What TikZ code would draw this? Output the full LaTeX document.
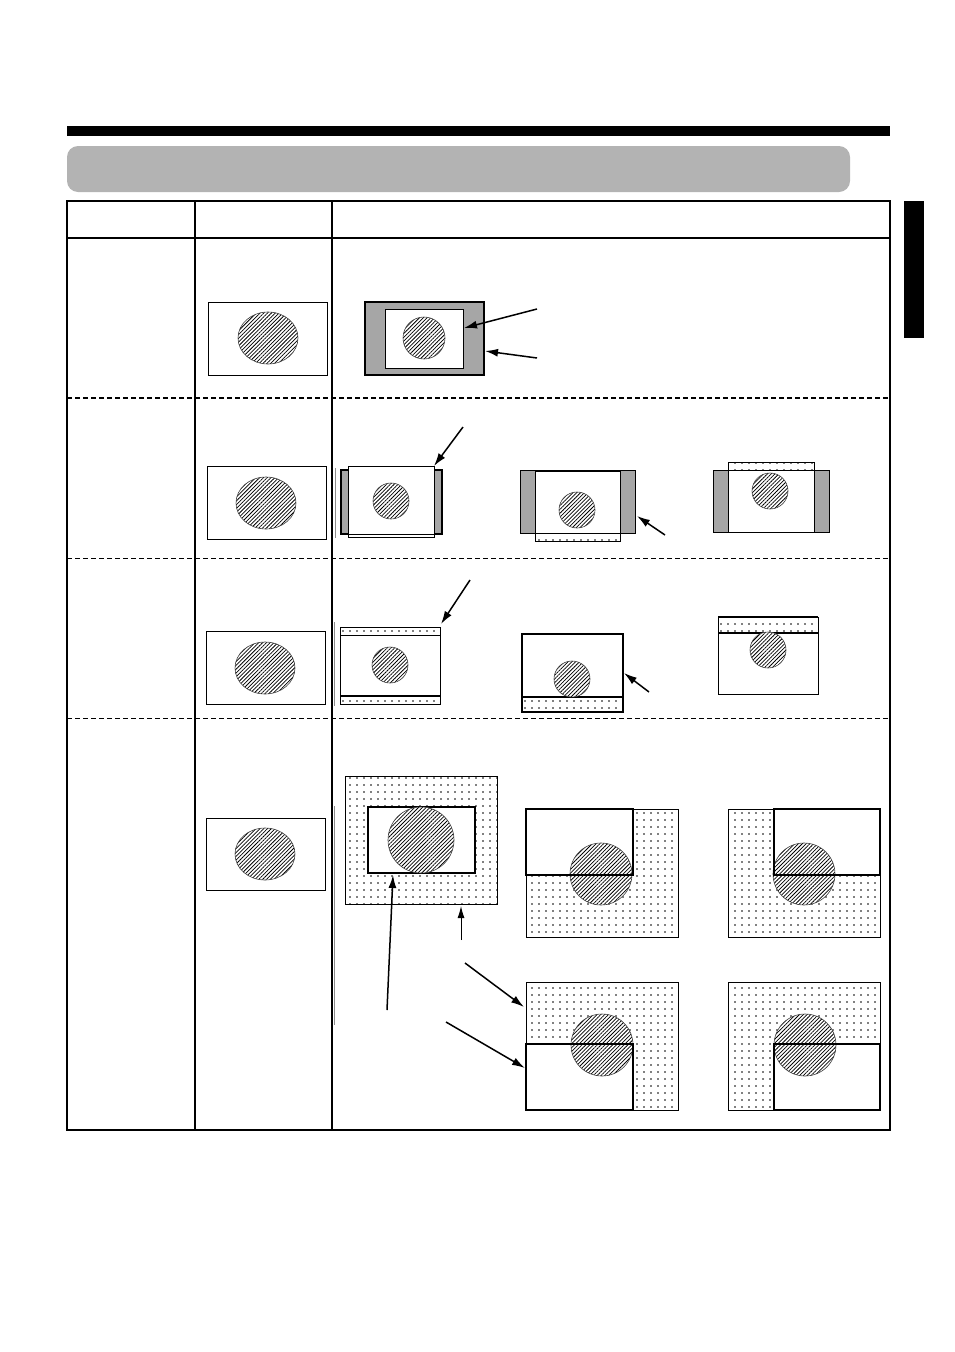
\documentclass[tikz,border=0pt]{standalone}
\usetikzlibrary{patterns.meta,arrows.meta}
\definecolor{banner}{RGB}{179,179,179}
\definecolor{barg}{RGB}{166,166,166}
\begin{document}
\begin{tikzpicture}[x=1pt,y=-1pt,
  hatchc/.style={draw=black!75, line width=0.6pt, preaction={fill=white},
     pattern={Lines[angle=45,distance=2.7pt,line width=0.75pt]}},
  dotsfill/.style={pattern={Dots[distance=7pt,radius=0.8pt]}},
  thinframe/.style={draw, line width=0.9pt},
  boldframe/.style={draw, line width=2pt},
  arr/.style={-{Latex[length=13pt,width=8pt]}, line width=1.5pt},
  arrthin/.style={-{Latex[length=12pt,width=7pt]}, line width=1pt},
  ghost/.style={draw=black!45, line width=0.6pt}]
\useasboundingbox (0,0) rectangle (954,1352);

% header
\fill (67,126) rectangle (890,136);
\fill[banner, rounded corners=11pt] (67,146) rectangle (850,192);
\fill (904,201) rectangle (924,338);

% table
\draw[line width=2pt] (67,201) rectangle (890,1130);
\draw[line width=2.5pt] (67,238) -- (890,238);
\draw[line width=1.5pt] (195,201) -- (195,1130);
\draw[line width=1.5pt] (332,201) -- (332,1130);
\draw[line width=1.5pt, dash pattern=on 5pt off 3pt] (67,398) -- (890,398);
\draw[line width=0.8pt, dash pattern=on 5pt off 3pt] (67,558) -- (890,558);
\draw[line width=0.8pt, dash pattern=on 5pt off 3pt] (67,718) -- (890,718);
\draw[ghost] (335,468) -- (335,538);
\draw[ghost] (334,622) -- (334,706);
\draw[ghost] (334,806) -- (334,1025);

% column 2 pictures
\draw[thinframe] (208,302) rectangle (327,375);
\draw[hatchc] (268,338) ellipse [x radius=30pt, y radius=26pt];
\draw[thinframe] (207,466) rectangle (326,539);
\draw[hatchc] (266,503) ellipse [x radius=30pt, y radius=26pt];
\draw[thinframe] (206,631) rectangle (325,704);
\draw[hatchc] (265,668) ellipse [x radius=30pt, y radius=26pt];
\draw[thinframe] (206,818) rectangle (325,890);
\draw[hatchc] (265,854) ellipse [x radius=30pt, y radius=26pt];

% ---------- row 1
\draw[boldframe, fill=barg] (365,302) rectangle (484,375);
\draw[thinframe, fill=white] (385,309) rectangle (463,368);
\draw[hatchc] (424,338) circle (21pt);
\coordinate (r1as) at (537,309); \coordinate (r1ae) at (464,328);
\coordinate (r1bs) at (537,358); \coordinate (r1be) at (485,351);
\draw[arr] (r1as) -- (r1ae);
\draw[arr] (r1bs) -- (r1be);

% ---------- row 2
% A
\fill[barg] (341,470) rectangle (442,534);
\fill[white] (348,470) rectangle (434,534);
\path[dotsfill] (348,534) rectangle (434,537);
\draw[boldframe] (341,470) rectangle (442,534);
\draw[thinframe, fill=white] (348,466) rectangle (434,534);
\draw[thinframe] (348,534) rectangle (434,537);
\draw[hatchc] (391,501) circle (18pt);
\coordinate (r2as) at (463,427); \coordinate (r2ae) at (434,466);
\draw[arr] (r2as) -- (r2ae);
% B
\draw[thinframe, fill=barg] (520,470) rectangle (635,533);
\draw[thinframe, fill=white] (535,470) rectangle (620,533);
\draw[line width=1.8pt] (535,471) -- (620,471);
\path[dotsfill] (535,533) rectangle (620,541);
\draw[thinframe] (535,533) rectangle (620,541);
\draw[hatchc] (577,510) circle (18pt);
\coordinate (r2bs) at (665,535); \coordinate (r2be) at (637,516);
\draw[arr] (r2bs) -- (r2be);
% C
\draw[thinframe, fill=barg] (713,470) rectangle (829,532);
\draw[thinframe, fill=white] (728,470) rectangle (814,532);
\path[dotsfill] (728,462) rectangle (814,470);
\draw[thinframe] (728,462) rectangle (814,470);
\draw[hatchc] (770,491) circle (18pt);

% ---------- row 3
% A
\path[dotsfill] (340,627) rectangle (440,635);
\path[dotsfill] (340,696) rectangle (440,704);
\draw[thinframe] (340,627) rectangle (440,704);
\draw[thinframe] (340,635) -- (440,635);
\draw[line width=2pt] (340,696) -- (440,696);
\draw[hatchc] (390,665) circle (18pt);
\coordinate (r3as) at (470,580); \coordinate (r3ae) at (441,624);
\draw[arr] (r3as) -- (r3ae);
% B
\path[dotsfill] (522,697) rectangle (623,712);
\draw[line width=1.2pt] (522,634) rectangle (623,712);
\draw[line width=2pt] (522,697) rectangle (623,712);
\draw[hatchc] (572,679) circle (18pt);
\coordinate (r3bs) at (649,692); \coordinate (r3be) at (624,673);
\draw[arr] (r3bs) -- (r3be);
% C
\path[dotsfill] (718,617) rectangle (818,633);
\draw[thinframe] (718,617) rectangle (818,694);
\draw[line width=2pt] (718,617) -- (818,617);
\draw[line width=2pt] (718,633) -- (818,633);
\draw[hatchc] (768,650) circle (18pt);

% ---------- row 4
% A
\path[dotsfill] (345,776) rectangle (497,904);
\draw[thinframe] (345,776) rectangle (497,904);
\draw[boldframe, fill=white] (368,807) rectangle (475,873);
\draw[hatchc] (421,840) circle (33pt);
\coordinate (r4as) at (387,1010); \coordinate (r4ae) at (393,875);
\coordinate (r4bs) at (461,940); \coordinate (r4be) at (461,906);
\draw[arr] (r4as) -- (r4ae);
\draw[arrthin] (r4bs) -- (r4be);
% B
\path[dotsfill] (526,809) rectangle (678,937);
\draw[thinframe] (526,809) rectangle (678,937);
\fill[white] (526,809) rectangle (633,875);
\draw[hatchc] (601,874) circle (31pt);
\draw[boldframe] (526,809) rectangle (633,875);
% C
\path[dotsfill] (728,809) rectangle (880,937);
\draw[thinframe] (728,809) rectangle (880,937);
\fill[white] (774,809) rectangle (880,875);
\draw[hatchc] (804,874) circle (31pt);
\draw[boldframe] (774,809) rectangle (880,875);
% D
\path[dotsfill] (526,982) rectangle (678,1110);
\draw[thinframe] (526,982) rectangle (678,1110);
\fill[white] (526,1044) rectangle (633,1110);
\draw[hatchc] (602,1045) circle (31pt);
\draw[boldframe] (526,1044) rectangle (633,1110);
% E
\path[dotsfill] (728,982) rectangle (880,1110);
\draw[thinframe] (728,982) rectangle (880,1110);
\fill[white] (774,1044) rectangle (880,1110);
\draw[hatchc] (805,1045) circle (31pt);
\draw[boldframe] (774,1044) rectangle (880,1110);
\coordinate (r4cs) at (465,963); \coordinate (r4ce) at (524,1007);
\coordinate (r4ds) at (446,1022); \coordinate (r4de) at (525,1068);
\draw[arr] (r4cs) -- (r4ce);
\draw[arr] (r4ds) -- (r4de);
\end{tikzpicture}
\end{document}
